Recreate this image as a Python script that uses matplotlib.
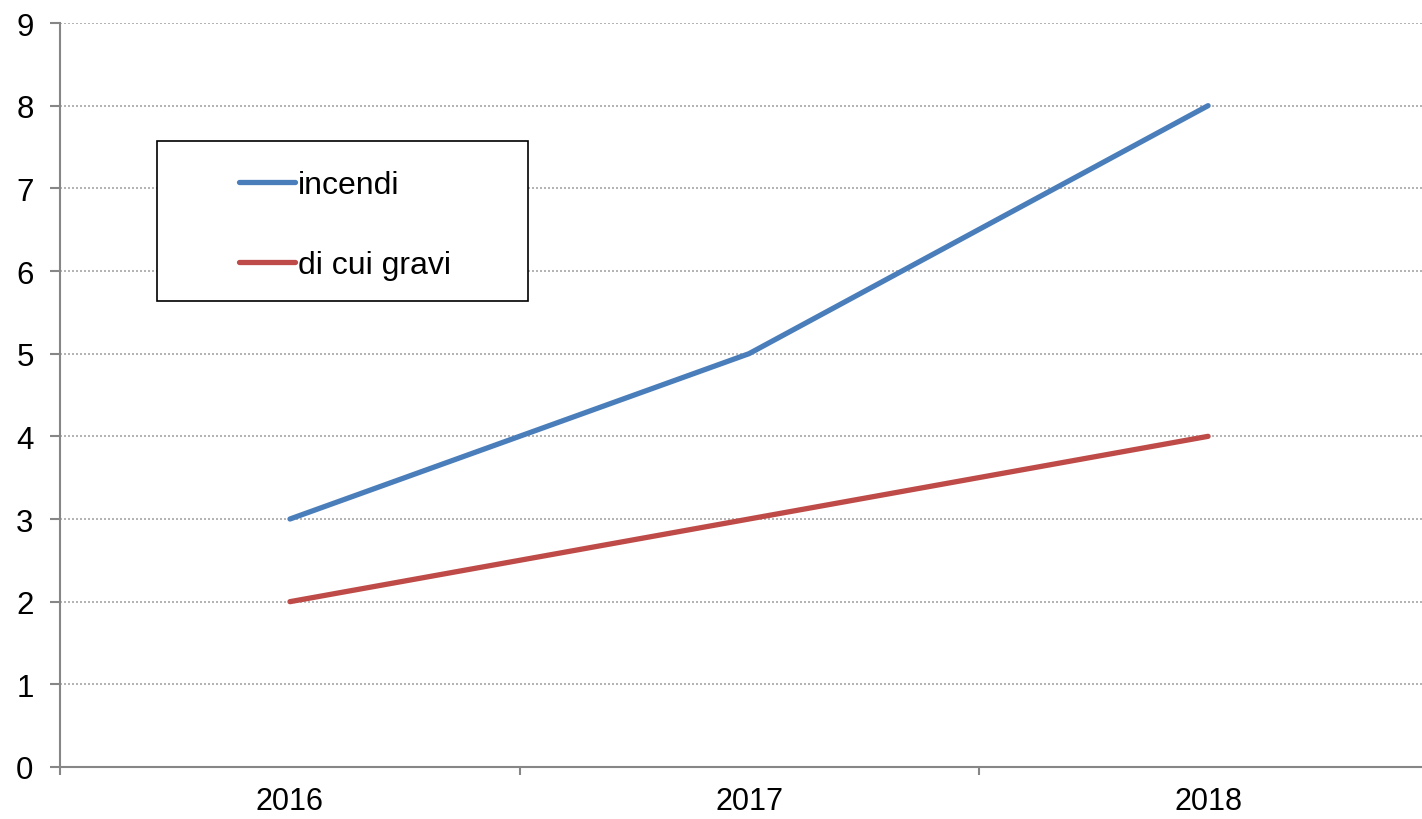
import matplotlib
matplotlib.use("Agg")
from matplotlib import pyplot as plt
from matplotlib.patches import Rectangle

years = ['2016', '2017', '2018']
incendi = [3, 5, 8]
di_cui_gravi = [2, 3, 4]

plt.rcParams['font.family'] = ['Liberation Sans', 'DejaVu Sans']

fig = plt.figure(figsize=(14.22, 8.2), dpi=100)
ax = fig.add_axes([60 / 1422, 1 - 768 / 820, 1362 / 1422, 744 / 820])

x = list(range(len(years)))
ax.plot(x, incendi, color='#4A7EBB', lw=3.8, solid_capstyle='round', label='incendi')
ax.plot(x, di_cui_gravi, color='#BE4B48', lw=3.8, solid_capstyle='round', label='di cui gravi')

ax.set_xlim(-0.501, 2.466)
ax.set_ylim(0, 9)

# y axis: grid at every unit
ax.set_yticks(range(0, 10))
ax.yaxis.grid(True, linestyle=(0, (1.2, 1.2)), color='#a6a6a6', linewidth=1.2)
ax.tick_params(axis='y', length=7, width=1.5, color='#868686', labelsize=22.5, pad=12)

# x axis: labels in the middle, ticks between categories
ax.set_xticks(x)
ax.set_xticklabels(years)
ax.set_xticks([-0.5, 0.5, 1.5], minor=True)
ax.tick_params(axis='x', which='major', length=0, labelsize=22, pad=14)
ax.tick_params(axis='x', which='minor', length=6, width=1.5, color='#868686')

for s in ['top', 'right']:
    ax.spines[s].set_visible(False)
for s in ['left', 'bottom']:
    ax.spines[s].set_color('#868686')
    ax.spines[s].set_linewidth(1.5)

# legend box drawn by hand, legend entries without frame
fig.add_artist(Rectangle((157 / 1422, 1 - 302 / 820), 371 / 1422, 160 / 820,
                         transform=fig.transFigure, fill=True, facecolor='white',
                         edgecolor='black', linewidth=1.2, zorder=5))
leg = fig.legend(handles=ax.get_lines(), loc='center left',
                 bbox_to_anchor=(210 / 1422, 1 - 226 / 820), frameon=False,
                 fontsize=23, handlelength=1.75, handletextpad=0.1, labelspacing=1.58)
leg.set_zorder(6)

fig.savefig('out.png', dpi=100)
